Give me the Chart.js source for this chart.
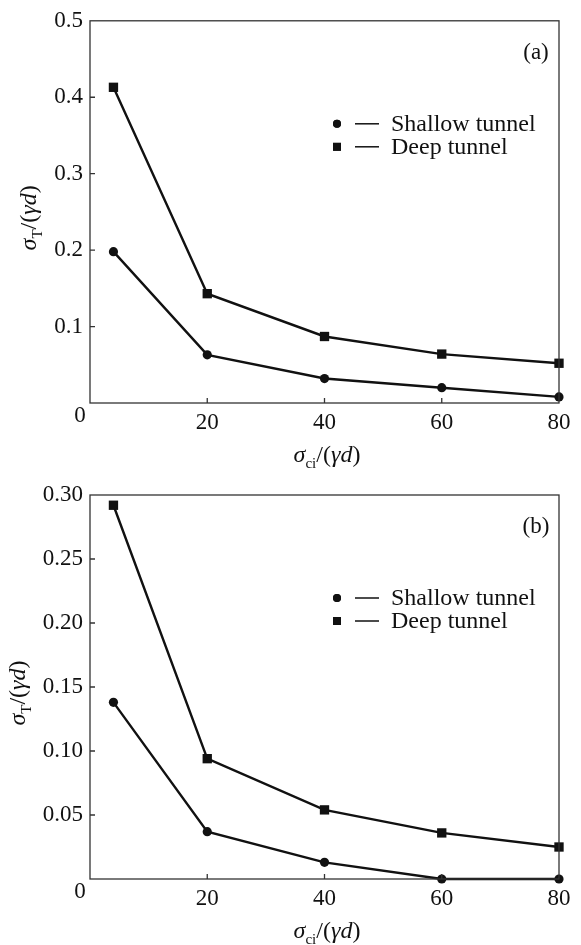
<!DOCTYPE html>
<html>
<head>
<meta charset="utf-8">
<title>Tensile strength vs. rock strength</title>
<script src="https://cdn.jsdelivr.net/npm/chart.js@4.4.0/dist/chart.umd.min.js"></script>
<style>
  html, body { margin: 0; padding: 0; background: #fff; }
  #wrap { position: relative; width: 581px; height: 945px; }
  .panel { position: absolute; left: 0; width: 581px; }
  #panelA { top: 0; height: 470px; }
  #panelB { top: 470px; height: 475px; }
</style>
</head>
<body>
<div id="wrap">
  <div class="panel" id="panelA"><canvas id="chartA" width="581" height="470"></canvas></div>
  <div class="panel" id="panelB"><canvas id="chartB" width="581" height="475"></canvas></div>
</div>
<script>
// sigma_ci / (gamma d) values where both tunnel types were computed
const xValues = [4, 20, 40, 60, 80];

// panel (a)
const shallowA = [0.198, 0.063, 0.032, 0.020, 0.008];
const deepA = [0.413, 0.143, 0.087, 0.064, 0.052];

// panel (b)
const shallowB = [0.138, 0.037, 0.013, 0.0, 0.0];
const deepB = [0.292, 0.094, 0.054, 0.036, 0.025];

const seriesNames = ['Shallow tunnel', 'Deep tunnel'];
const xTickValues = [0, 20, 40, 60, 80];
const yTicksA = [0, 0.1, 0.2, 0.3, 0.4, 0.5];
const yTicksB = [0, 0.05, 0.10, 0.15, 0.20, 0.25, 0.30];

const SERIF = "'Liberation Serif', 'Times New Roman', serif";
const INK = '#111';
const AXIS = '#333';
const FONT_SIZE = 23;

Chart.defaults.font.family = SERIF;
Chart.defaults.color = INK;

function toPoints(ys) {
  return xValues.map((x, i) => ({ x: x, y: ys[i] }));
}

// writes a label made of pieces (italic greek letters, subscripts) centred on cx
function drawMath(ctx, parts, cx, baseY, size) {
  const fontOf = p => (p.it ? 'italic ' : '') + (p.sub ? Math.round(size * 0.64) : size) + 'px ' + SERIF;
  let total = 0;
  parts.forEach(p => {
    ctx.font = fontOf(p);
    p.w = ctx.measureText(p.t).width;
    total += p.w;
  });
  let x = cx - total / 2;
  ctx.textAlign = 'left';
  ctx.textBaseline = 'alphabetic';
  parts.forEach(p => {
    ctx.font = fontOf(p);
    ctx.fillText(p.t, x, baseY + (p.sub ? size * 0.25 : 0));
    x += p.w;
  });
}

const xTitleParts = () => [
  { t: 'σ', it: true }, { t: 'ci', sub: true }, { t: '/(' }, { t: 'γd', it: true }, { t: ')' }
];
const yTitleParts = () => [
  { t: 'σ', it: true }, { t: 'T', sub: true }, { t: '/(' }, { t: 'γd', it: true }, { t: ')' }
];

// frame, inward ticks, corner zero, axis titles, legend and panel tag
const decorPlugin = {
  id: 'decor',
  afterDraw(chart, args, opts) {
    const ctx = chart.ctx;
    const a = chart.chartArea;
    const xs = chart.scales.x;
    const ys = chart.scales.y;
    ctx.save();

    // box around the plot
    ctx.strokeStyle = AXIS;
    ctx.lineWidth = 1.3;
    ctx.strokeRect(a.left, a.top, a.right - a.left, a.bottom - a.top);

    // short ticks pointing into the plot
    ctx.beginPath();
    xTickValues.slice(1, -1).forEach(v => {
      const px = xs.getPixelForValue(v);
      ctx.moveTo(px, a.bottom);
      ctx.lineTo(px, a.bottom - 5);
    });
    opts.yTicks.slice(1, -1).forEach(v => {
      const py = ys.getPixelForValue(v);
      ctx.moveTo(a.left, py);
      ctx.lineTo(a.left + 5, py);
    });
    ctx.stroke();

    ctx.fillStyle = INK;

    // shared origin label
    ctx.font = FONT_SIZE + 'px ' + SERIF;
    ctx.textAlign = 'center';
    ctx.textBaseline = 'alphabetic';
    ctx.fillText('0', a.left - 10, a.bottom + 19);

    // axis titles
    drawMath(ctx, xTitleParts(), 327, a.bottom + 59, 24);
    ctx.save();
    ctx.translate(opts.yTitleX, (a.top + a.bottom) / 2 + 6);
    ctx.rotate(-Math.PI / 2);
    drawMath(ctx, yTitleParts(), 0, 0, 24);
    ctx.restore();

    // panel tag
    ctx.font = FONT_SIZE + 'px ' + SERIF;
    ctx.textAlign = 'center';
    ctx.textBaseline = 'middle';
    ctx.fillText(opts.tag, 536, a.top + 32);

    // legend
    chart.data.datasets.forEach((ds, i) => {
      const y = a.top + 103 + i * 23;
      Chart.helpers.drawPoint(ctx, {
        pointStyle: ds.pointStyle,
        radius: ds.pointStyle === 'rect' ? 5.6 : 4,
        borderWidth: 0
      }, 337, y);
      ctx.fillStyle = INK;
      ctx.fill();
      ctx.strokeStyle = INK;
      ctx.lineWidth = 1.5;
      ctx.beginPath();
      ctx.moveTo(355, y);
      ctx.lineTo(379, y);
      ctx.stroke();
      ctx.font = '24px ' + SERIF;
      ctx.textAlign = 'left';
      ctx.textBaseline = 'middle';
      ctx.fillText(ds.label, 391, y + 1);
    });

    ctx.restore();
  }
};

function makeChart(canvasId, shallow, deep, yTicks, yMax, decimals, pad, xAxisHeight, tag, yTitleX) {
  const dataset = (label, values, style, radius) => ({
    label: label,
    data: toPoints(values),
    borderColor: INK,
    backgroundColor: INK,
    borderWidth: 2.4,
    pointStyle: style,
    pointRadius: radius,
    pointBorderWidth: 0,
    pointBackgroundColor: INK,
    tension: 0,
    clip: false
  });

  return new Chart(document.getElementById(canvasId), {
    type: 'line',
    data: {
      datasets: [
        dataset(seriesNames[0], shallow, 'circle', 4.6),
        dataset(seriesNames[1], deep, 'rect', 6.6)
      ]
    },
    options: {
      responsive: false,
      animation: false,
      layout: { padding: { left: 0, right: 22, top: pad, bottom: 0 } },
      plugins: {
        legend: { display: false },
        tooltip: { enabled: false },
        decor: { yTicks: yTicks, tag: tag, yTitleX: yTitleX }
      },
      scales: {
        x: {
          type: 'linear',
          min: 0,
          max: 80,
          afterBuildTicks: s => { s.ticks = xTickValues.map(v => ({ value: v })); },
          afterFit: s => { s.height = xAxisHeight; },
          grid: { display: false, drawTicks: false },
          border: { display: false },
          ticks: {
            padding: 6,
            font: { size: FONT_SIZE },
            color: INK,
            maxRotation: 0,
            callback: v => (v === 0 ? '' : String(v))
          }
        },
        y: {
          type: 'linear',
          min: 0,
          max: yMax,
          afterBuildTicks: s => { s.ticks = yTicks.map(v => ({ value: v })); },
          afterFit: s => { s.width = 90; },
          grid: { display: false, drawTicks: false },
          border: { display: false },
          ticks: {
            padding: 7,
            font: { size: FONT_SIZE },
            color: INK,
            callback: v => (v === 0 ? '' : v.toFixed(decimals))
          }
        }
      }
    },
    plugins: [decorPlugin]
  });
}

makeChart('chartA', shallowA, deepA, yTicksA, 0.5, 1, 18, 67, '(a)', 36);
makeChart('chartB', shallowB, deepB, yTicksB, 0.30, 2, 25, 66, '(b)', 25);
</script>
</body>
</html>
